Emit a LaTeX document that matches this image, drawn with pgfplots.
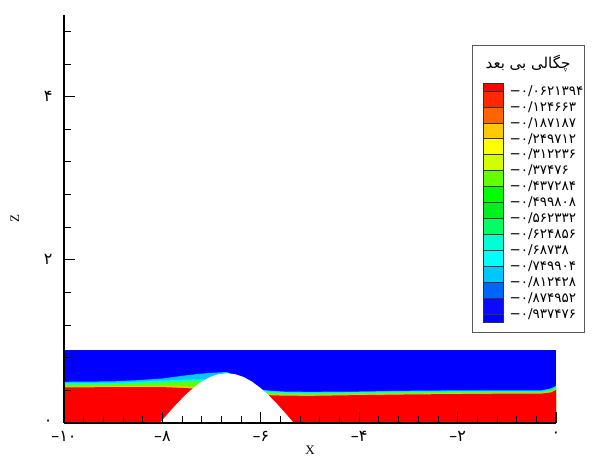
\documentclass[border=0pt]{standalone}
\usepackage{pgfplots}
\pgfplotsset{compat=1.18}
\usepackage{pgfplotstable}
\usepackage{fontspec}
\setmainfont{Liberation Serif}
\newfontfamily\fa{DejaVu Sans}
\newfontfamily\arabicfont[Script=Arabic]{DejaVu Sans}
\TeXXeTstate=1

% contour level colours
\definecolor{c01}{HTML}{FF0000}
\definecolor{c02}{HTML}{FF2800}
\definecolor{c03}{HTML}{FF6400}
\definecolor{c04}{HTML}{FFC800}
\definecolor{c05}{HTML}{FFFF00}
\definecolor{c06}{HTML}{D2FF00}
\definecolor{c07}{HTML}{64FF00}
\definecolor{c08}{HTML}{00FF00}
\definecolor{c09}{HTML}{00F020}
\definecolor{c10}{HTML}{00FF64}
\definecolor{c11}{HTML}{00FFD2}
\definecolor{c12}{HTML}{00FFFF}
\definecolor{c13}{HTML}{00C8FF}
\definecolor{c14}{HTML}{0064FF}
\definecolor{c15}{HTML}{0A0AFF}
\definecolor{c16}{HTML}{0000FF}

% upper edges of the density bands in the flow
\pgfplotstableread{
x      b1     b2     b3     b4     b5
-10    0.505  0.490  0.470  0.445  0.435
-9     0.510  0.495  0.475  0.450  0.440
-8.5   0.525  0.505  0.485  0.455  0.440
-8     0.545  0.520  0.495  0.455  0.440
-7.6   0.578  0.530  0.505  0.450  0.430
-7.3   0.600  0.535  0.510  0.440  0.420
-7.0   0.615  0.540  0.500  0.420  0.400
-6.69  0.625  0.540  0.480  0.400  0.380
-6.3   0.520  0.480  0.450  0.380  0.360
-6.0   0.410  0.400  0.390  0.360  0.345
-5.8   0.395  0.385  0.370  0.350  0.340
-5.5   0.385  0.377  0.362  0.345  0.335
-5.0   0.382  0.374  0.360  0.342  0.333
-4.0   0.386  0.378  0.367  0.350  0.342
-3.0   0.395  0.386  0.375  0.357  0.350
-2.0   0.400  0.390  0.380  0.362  0.355
-1.0   0.400  0.391  0.382  0.366  0.360
-0.3   0.400  0.391  0.382  0.367  0.360
-0.1   0.425  0.410  0.400  0.385  0.375
0      0.455  0.440  0.430  0.415  0.405
}\bands

% bottom obstacle
\pgfplotstableread{
x      z
-8.05  0
-7.88  0.119
-7.71  0.233
-7.54  0.339
-7.37  0.431
-7.20  0.507
-7.03  0.564
-6.86  0.598
-6.69  0.610
-6.52  0.598
-6.35  0.564
-6.18  0.507
-6.01  0.431
-5.84  0.339
-5.67  0.233
-5.50  0.119
-5.33  0
}\hill

\begin{document}
\begin{tikzpicture}
\useasboundingbox (0,0) rectangle (596pt,457pt);

\begin{axis}[
  at={(64pt,34pt)}, anchor=south west,
  scale only axis, width=492pt, height=408pt,
  xmin=-10, xmax=0, ymin=0, ymax=5,
  axis x line=bottom, axis y line=left,
  x axis line style={-, line width=1.3pt},
  y axis line style={-, line width=1.3pt},
  axis on top,
  tick align=inside,
  major tick length=11pt, minor tick length=7pt,
  every major tick/.style={black, line width=1.1pt},
  every minor tick/.style={black, line width=0.8pt},
  xtick={-10,-8,-6,-4,-2,0},
  xticklabels={{–۱۰},{–۸},{–۶},{–۴},{–۲},{۰}},
  minor xtick={-9.6,-9.2,-8.8,-8.4,-7.6,-7.2,-6.8,-6.4,-5.6,-5.2,-4.8,-4.4,-3.6,-3.2,-2.8,-2.4,-1.6,-1.2,-0.8,-0.4},
  ytick={0,2,4},
  yticklabels={{۰},{۲},{۴}},
  minor ytick={0.4,0.8,1.2,1.6,2.4,2.8,3.2,3.6,4.4,4.8},
  ticklabel style={font=\fa\fontsize{16}{18}\selectfont},
  xticklabel style={yshift=-5pt},
  yticklabel style={xshift=-8pt},
  xlabel={X}, ylabel={Z},
  label style={font=\fontsize{13}{15}\selectfont},
  xlabel style={at={(axis description cs:0.5,-0.066)}, anchor=center},
  ylabel style={at={(axis description cs:-0.1,0.5)}, anchor=center},
]
  % fluid column
  \addplot[fill=c16, draw=none] coordinates {(-10,0) (-10,0.9) (0,0.9) (0,0)} -- cycle;
  % density bands, lightest first
  \addplot[fill=c13, draw=none] table[x=x, y=b1] {\bands} \closedcycle;
  \addplot[fill=c11, draw=none] table[x=x, y=b2] {\bands} \closedcycle;
  \addplot[fill=c07, draw=none] table[x=x, y=b3] {\bands} \closedcycle;
  \addplot[fill=c04, draw=none] table[x=x, y=b4] {\bands} \closedcycle;
  \addplot[fill=c01, draw=none] table[x=x, y=b5] {\bands} \closedcycle;
  % obstacle
  \addplot[fill=white, draw=none] table[x=x, y=z] {\hill} \closedcycle;
\end{axis}

% legend frame and title
\draw[black!65, line width=0.8pt] (472pt,125pt) rectangle (584pt,412pt);
\node[font=\arabicfont\fontsize{15}{17}\selectfont] at (528pt,394pt) {\beginR چگالی بی بعد\endR};

\begin{axis}[
  at={(483pt,135pt)}, anchor=south west,
  scale only axis, width=20pt, height=239pt,
  xmin=0, xmax=1, ymin=0, ymax=15,
  axis line style={draw=none},
  xtick=\empty,
  ytick={0.5,1.5,2.5,3.5,4.5,5.5,6.5,7.5,8.5,9.5,10.5,11.5,12.5,13.5,14.5},
  yticklabels={
    {−۰/۹۳۷۴۷۶},{−۰/۸۷۴۹۵۲},{−۰/۸۱۲۴۲۸},{−۰/۷۴۹۹۰۴},{−۰/۶۸۷۳۸},
    {−۰/۶۲۴۸۵۶},{−۰/۵۶۲۳۳۲},{−۰/۴۹۹۸۰۸},{−۰/۴۳۷۲۸۴},{−۰/۳۷۴۷۶},
    {−۰/۳۱۲۲۳۶},{−۰/۲۴۹۷۱۲},{−۰/۱۸۷۱۸۷},{−۰/۱۲۴۶۶۳},{−۰/۰۶۲۱۳۹۴}},
  yticklabel pos=right,
  major tick length=0pt,
  yticklabel style={font=\fa\fontsize{13.5}{15}\selectfont, anchor=west, xshift=3pt},
  clip=false,
]
  \addplot[fill=c16, draw=black!80, line width=0.6pt] coordinates {(0,0) (1,0) (1,0.5) (0,0.5)} -- cycle;
  \addplot[fill=c15, draw=black!80, line width=0.6pt] coordinates {(0,0.5) (1,0.5) (1,1.5) (0,1.5)} -- cycle;
  \addplot[fill=c14, draw=black!80, line width=0.6pt] coordinates {(0,1.5) (1,1.5) (1,2.5) (0,2.5)} -- cycle;
  \addplot[fill=c13, draw=black!80, line width=0.6pt] coordinates {(0,2.5) (1,2.5) (1,3.5) (0,3.5)} -- cycle;
  \addplot[fill=c12, draw=black!80, line width=0.6pt] coordinates {(0,3.5) (1,3.5) (1,4.5) (0,4.5)} -- cycle;
  \addplot[fill=c11, draw=black!80, line width=0.6pt] coordinates {(0,4.5) (1,4.5) (1,5.5) (0,5.5)} -- cycle;
  \addplot[fill=c10, draw=black!80, line width=0.6pt] coordinates {(0,5.5) (1,5.5) (1,6.5) (0,6.5)} -- cycle;
  \addplot[fill=c09, draw=black!80, line width=0.6pt] coordinates {(0,6.5) (1,6.5) (1,7.5) (0,7.5)} -- cycle;
  \addplot[fill=c08, draw=black!80, line width=0.6pt] coordinates {(0,7.5) (1,7.5) (1,8.5) (0,8.5)} -- cycle;
  \addplot[fill=c07, draw=black!80, line width=0.6pt] coordinates {(0,8.5) (1,8.5) (1,9.5) (0,9.5)} -- cycle;
  \addplot[fill=c06, draw=black!80, line width=0.6pt] coordinates {(0,9.5) (1,9.5) (1,10.5) (0,10.5)} -- cycle;
  \addplot[fill=c05, draw=black!80, line width=0.6pt] coordinates {(0,10.5) (1,10.5) (1,11.5) (0,11.5)} -- cycle;
  \addplot[fill=c04, draw=black!80, line width=0.6pt] coordinates {(0,11.5) (1,11.5) (1,12.5) (0,12.5)} -- cycle;
  \addplot[fill=c03, draw=black!80, line width=0.6pt] coordinates {(0,12.5) (1,12.5) (1,13.5) (0,13.5)} -- cycle;
  \addplot[fill=c02, draw=black!80, line width=0.6pt] coordinates {(0,13.5) (1,13.5) (1,14.5) (0,14.5)} -- cycle;
  \addplot[fill=c01, draw=black!80, line width=0.6pt] coordinates {(0,14.5) (1,14.5) (1,15) (0,15)} -- cycle;
\end{axis}
\end{tikzpicture}
\end{document}
